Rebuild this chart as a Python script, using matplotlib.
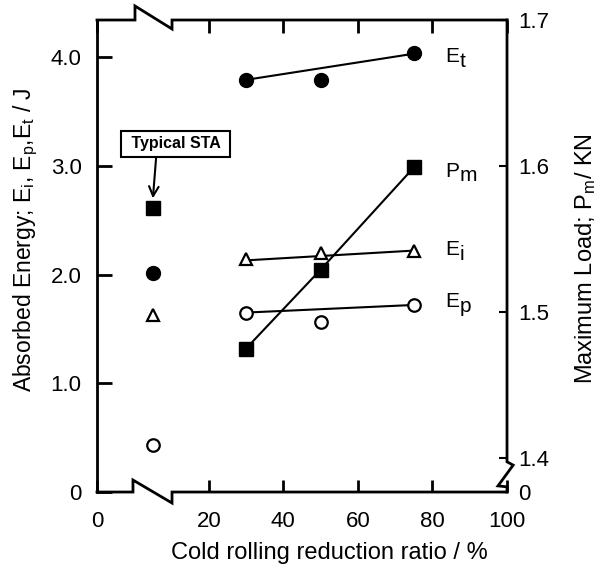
import numpy as np
import matplotlib.pyplot as plt

plt.rcParams['font.family'] = ['Liberation Sans', 'DejaVu Sans']

# cold rolling reduction ratio (%) of the rolled specimens
reduction = [30, 50, 75]
# plotted position of the typical STA (unrolled) specimen, left of the axis break
sta_x = 5

# absorbed energies / J
e_t = [3.79, 3.79, 4.04]
e_i = [2.14, 2.20, 2.22]
e_p = [1.65, 1.56, 1.72]
# maximum load / kN
p_m = [1.475, 1.529, 1.599]

# typical STA values
sta_e_t = 2.01
sta_e_i = 1.63
sta_e_p = 0.43
sta_p_m = 1.571

# trend lines drawn between 30 % and 75 %
line_x = [30, 75]
e_t_line = [3.79, 4.03]
e_i_line = [2.13, 2.22]
e_p_line = [1.65, 1.72]

x_ticks = [-10, 20, 40, 60, 80, 100]
x_tick_labels = ['0', '20', '40', '60', '80', '100']
left_ticks = [0, 1, 2, 3, 4]
left_tick_labels = ['0', '1.0', '2.0', '3.0', '4.0']
right_ticks = [1.3767, 1.4, 1.5, 1.6, 1.7]
right_tick_labels = ['0', '1.4', '1.5', '1.6', '1.7']


def draw_frame(ax):
    # spines with break marks, in axes fraction
    kw = dict(transform=ax.transAxes, clip_on=False, color='black', lw=2.0,
              solid_joinstyle='miter', zorder=5)
    ax.plot([0, 0.0878, 0.0878, 0.183, 0.183, 1.0],
            [0, 0, 0.0254, -0.0233, 0, 0], **kw)
    ax.plot([0, 0.0927, 0.0927, 0.183, 0.183, 1.0],
            [1, 1, 1.0297, 0.981, 1, 1], **kw)
    ax.plot([1.0, 1.0, 1.015, 0.978, 1.0, 1.0],
            [1.0, 0.064, 0.057, 0.013, 0.011, 0], **kw)


def curve_label(ax, x, y, main, sub):
    ax.text(x, y, main, fontsize=15, ha='left', va='baseline')
    ax.annotate(sub, xy=(x, y), xytext=(10.5, -3.5), textcoords='offset points',
                fontsize=15, ha='left', va='baseline')


fig = plt.figure(figsize=(6.13, 5.70), dpi=100)
ax = fig.add_axes([0.1582, 0.1368, 0.6689, 0.8281])
ax2 = ax.twinx()

for side in ['top', 'bottom', 'right']:
    ax.spines[side].set_visible(False)
for side in ax2.spines:
    ax2.spines[side].set_visible(False)
ax.spines['left'].set_linewidth(2.0)
draw_frame(ax)

mk = dict(color='black', lw=1.5, clip_on=False)
ax.plot(line_x, e_t_line, **mk)
ax.plot(line_x, e_i_line, **mk)
ax.plot(line_x, e_p_line, **mk)
ax.plot(reduction, e_t, 'o', ms=10, mfc='black', mec='black', clip_on=False)
ax.plot(reduction, e_i, '^', ms=8, mfc='white', mec='black', mew=1.6, clip_on=False)
ax.plot(reduction, e_p, 'o', ms=9, mfc='white', mec='black', mew=1.6, clip_on=False)
ax.plot([sta_x], [sta_e_t], 'o', ms=10, mfc='black', mec='black')
ax.plot([sta_x], [sta_e_i], '^', ms=8, mfc='white', mec='black', mew=1.6)
ax.plot([sta_x], [sta_e_p], 'o', ms=9, mfc='white', mec='black', mew=1.6)

ax2.plot(reduction, p_m, 's', ls='-', ms=10, color='black', lw=1.5, clip_on=False)
ax2.plot([sta_x], [sta_p_m], 's', ms=10, color='black')

ax.set_xlim(-10, 100)
ax.set_ylim(0, 4.34)
ax2.set_ylim(1.3767, 1.7)

ax.set_xticks(x_ticks)
ax.set_xticklabels(x_tick_labels)
ax.set_yticks(left_ticks)
ax.set_yticklabels(left_tick_labels)
ax2.set_yticks(right_ticks)
ax2.set_yticklabels(right_tick_labels)

ax.tick_params(axis='x', direction='in', top=True, length=9, width=2.0,
               labelsize=16, pad=14)
ax.tick_params(axis='y', direction='in', right=False, length=11, width=2.0,
               labelsize=16, pad=11)
ax2.tick_params(axis='y', direction='in', length=6, width=1.5,
                labelsize=16, pad=8)

ax.set_xlabel('Cold rolling reduction ratio / %', fontsize=17)
ax.xaxis.set_label_coords(0.566, -0.105)
ax.set_ylabel(r'Absorbed Energy; $\mathregular{E_i}$, $\mathregular{E_p}$,'
              r'$\mathregular{E_t}$ / J', fontsize=16.5)
ax.yaxis.set_label_coords(-0.14, 0.534)
ax2.set_ylabel(r'Maximum Load; $\mathregular{P_m}$/ KN', fontsize=17)
ax2.yaxis.set_label_coords(1.161, 0.494)

curve_label(ax, 83.4, 3.95, 'E', 't')
curve_label(ax, 83.4, 2.90, 'P', 'm')
curve_label(ax, 83.4, 2.18, 'E', 'i')
curve_label(ax, 83.4, 1.70, 'E', 'p')

ax.annotate(' Typical STA ', xy=(sta_x, 2.70), xytext=(11.1, 3.20),
            fontsize=11.5, fontweight='bold', ha='center', va='center',
            bbox=dict(boxstyle='square,pad=0.35', fc='white', ec='black', lw=1.5),
            arrowprops=dict(arrowstyle='->,head_length=0.6,head_width=0.3',
                            color='black', lw=1.5, relpos=(0.305, 0),
                            shrinkA=0, shrinkB=0))

fig.savefig('out.png', dpi=100)
